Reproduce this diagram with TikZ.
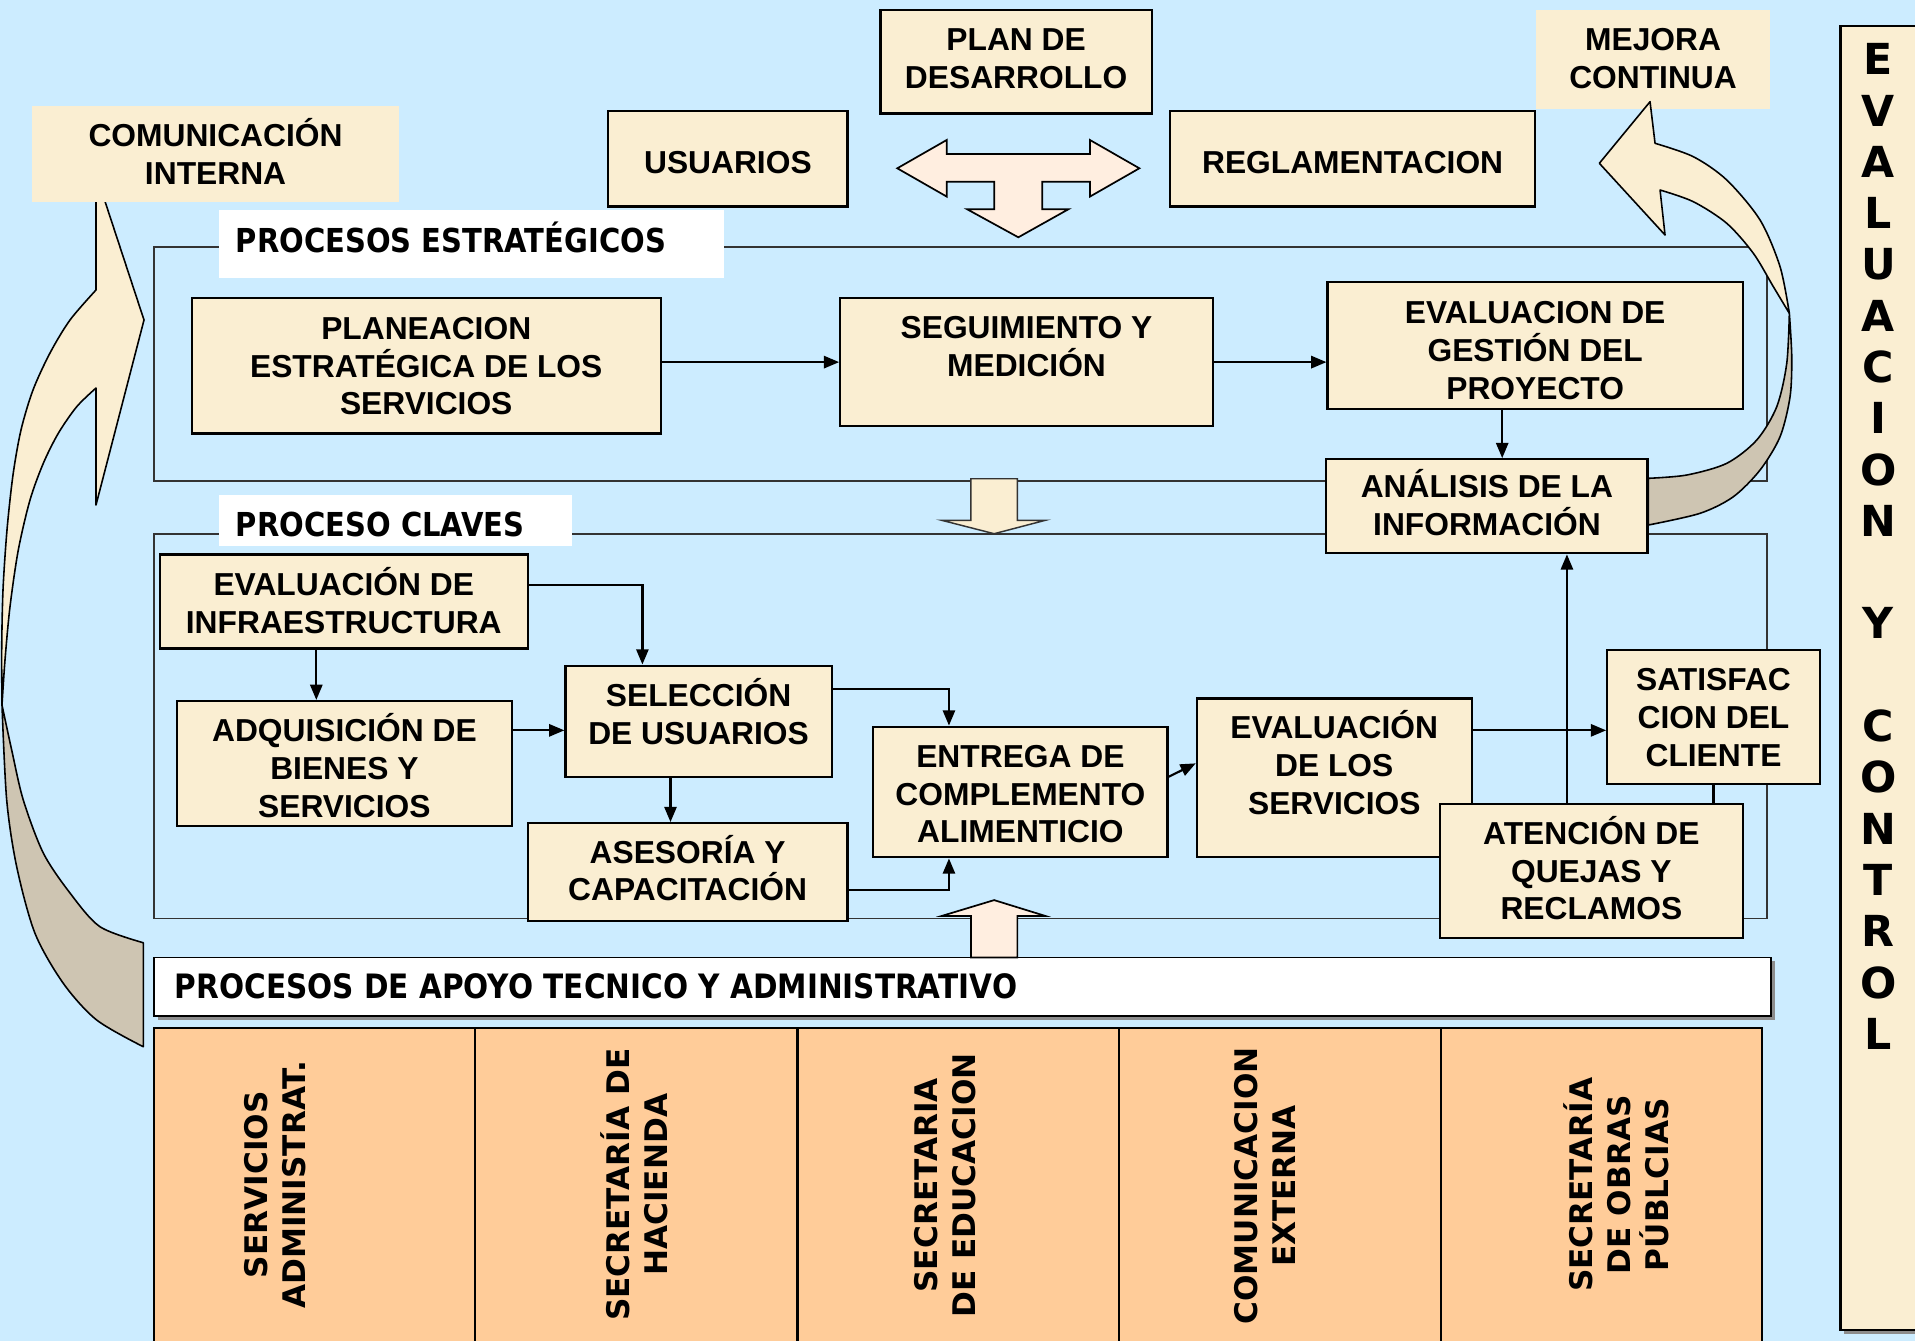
\documentclass[tikz,border=0pt]{standalone}
\usepackage{fontspec}
\setmainfont{Liberation Sans}
\newfontfamily\headfont[FakeStretch=0.88]{DejaVu Sans}
\newfontfamily\vertfont{DejaVu Sans}
\usetikzlibrary{arrows.meta,fit}
\definecolor{bgc}{RGB}{204,236,255}
\definecolor{parch}{RGB}{250,238,210}
\definecolor{cTan}{RGB}{206,197,178}
\definecolor{peachlt}{RGB}{255,238,224}
\definecolor{peachc}{RGB}{255,204,153}
\newcommand\hph{\vphantom{Á}}
\begin{document}
\begin{tikzpicture}[x=1pt,y=-1pt,
  box/.style={draw=black,line width=1.8pt,fill=parch,inner sep=0pt},
  plainbox/.style={fill=parch,inner sep=0pt},
  whitebox/.style={fill=white,inner sep=0pt},
  txt/.style={align=center,font=\fontsize{26}{31}\selectfont\bfseries,inner sep=0pt,yshift=2.7pt},
  head/.style={font=\headfont\fontsize{27}{31}\selectfont\bfseries,inner sep=0pt,anchor=west,yshift=2.7pt},
  vert/.style={font=\vertfont\fontsize{25.5}{31}\selectfont\bfseries,align=center,rotate=90,inner sep=0pt},
  conn/.style={line width=1.8pt,-{Triangle[length=12.5pt,width=10pt]}},
  lin/.style={line width=1.8pt},
  frm/.style={draw=black!80,line width=1.5pt},
  blockarrow/.style={draw=black,line width=1.4pt,line join=miter},
  curved/.style={draw=black,line width=1.3pt,line join=round}
]
\useasboundingbox (0,0) rectangle (1568,1098);
\fill[bgc] (0,0) rectangle (1568,1098);

% frames
\draw[frm] (126,202) rectangle (1447,394);
\draw[frm] (126,437) rectangle (1447,752);

% left curved arrow (full-size pixel coordinates)
\begin{scope}[scale=0.818815]
\draw[curved,fill=parch] (96,174) -- (144,320) -- (96,505) -- (96,388)
  -- plot[smooth] coordinates {(96,388) (76.7,406.7) (58.3,433.3) (43.3,463.3) (30,500) (18.3,550) (10,606.7) (5,660) (2,705)}
  -- plot[smooth] coordinates {(2,705) (1.7,650) (3,590) (7,530) (13,475) (21,430) (33,390) (50,353) (70,320) (96,290)}
  -- cycle;
\draw[curved,fill=cTan] (2,705)
  -- plot[smooth] coordinates {(2,705) (6.7,800) (16.7,866.7) (35,933.3) (63.3,983.3) (96.7,1020) (143.3,1046.7)}
  -- (143.3,942.7)
  -- plot[smooth] coordinates {(143.3,942.7) (100,926.7) (70,893) (43.3,853) (23.3,800) (11.7,750) (2,705)}
  -- cycle;
\end{scope}

% section labels
\node[whitebox,fit={(179,172) (593,228)}] (lblEst) {};
\node[head] (lblEstT) at (193,197) {\hph PROCESOS ESTRATÉGICOS};
\node[whitebox,fit={(179,405) (468,447)}] (lblCla) {};
\node[head] (lblClaT) at (193,430) {\hph PROCESO CLAVES};

% T-shaped block arrow
\draw[blockarrow,fill=peachlt] (734.7,137.8) -- (775.2,114.6) -- (775.2,126.1) -- (892.4,126.1) -- (892.4,114.6)
  -- (932.9,137.8) -- (892.4,161.0) -- (892.4,148.8) -- (853.4,148.8) -- (853.4,171.4) -- (874.7,171.4)
  -- (833.8,194.3) -- (792.0,171.4) -- (814.1,171.4) -- (814.1,148.8) -- (775.2,148.8) -- (775.2,161.0) -- cycle;

% block arrow down between frames
\draw[blockarrow,draw=black!80,line width=1.2pt,fill=parch] (795,392) -- (833,392) -- (833,426) -- (856,426) -- (814,437) -- (771,426) -- (795,426) -- cycle;

% top boxes
\node[box,fit={(721,8) (943,93)}] (plan) {};
\node[txt] (planT) at (832,48) {\hph PLAN DE\\DESARROLLO};
\node[box,fit={(498,91) (694,169)}] (usu) {};
\node[txt] (usuT) at (596,133) {\hph USUARIOS};
\node[box,fit={(958,91) (1257,169)}] (regl) {};
\node[txt] (reglT) at (1107.5,133) {\hph REGLAMENTACION};
\node[plainbox,fit={(1258,8) (1449,89)}] (mejora) {};
\node[txt] (mejoraT) at (1353.5,48) {\hph MEJORA\\CONTINUA};
\node[plainbox,fit={(26,87) (327,165)}] (comint) {};
\node[txt] (comintT) at (176.5,126.5) {\hph COMUNICACIÓN\\INTERNA};

% strategic processes
\node[box,fit={(157,244) (541,355)}] (planea) {};
\node[txt] (planeaT) at (349,300) {\hph PLANEACION\\ESTRATÉGICA DE LOS\\SERVICIOS};
\node[box,fit={(688,244) (993,349)}] (seg) {};
\node[txt] (segT) at (840.5,284) {\hph SEGUIMIENTO Y\\MEDICIÓN};
\node[box,fit={(1087,231) (1427,335)}] (evalg) {};
\node[txt] (evalgT) at (1257,287) {\hph EVALUACION DE\\GESTIÓN DEL\\PROYECTO};

% right curved arrow (full-size pixel coordinates)
\begin{scope}[scale=0.818815]
\draw[curved,fill=parch] (1650,101.7) -- (1599.3,163.3) -- (1665,235) -- (1660,190)
  -- plot[smooth] coordinates {(1660,190) (1693.3,201.7) (1726.7,223.3) (1753.3,253.3) (1773.3,286.7) (1789.3,313.3)}
  -- plot[smooth] coordinates {(1789.3,313.3) (1780,266.7) (1760,220) (1726.7,180) (1693.3,156.7) (1655,143.3)}
  -- cycle;
\draw[curved,fill=cTan] (1789.3,313.3)
  -- plot[smooth] coordinates {(1789.3,313.3) (1791.7,356.7) (1790,396.7) (1780,436.7) (1760,470) (1733.3,496.7) (1700,513.3) (1648.3,525)}
  -- (1648.3,478.3)
  -- plot[smooth] coordinates {(1648.3,478.3) (1686.7,475) (1726.7,463.3) (1756.7,440) (1776.7,406.7) (1786.7,363.3) (1789.3,313.3)}
  -- cycle;
\end{scope}

\node[box,fit={(1086,376) (1349,453)}] (anal) {};
\node[txt] (analT) at (1217.5,414.5) {\hph ANÁLISIS DE LA\\INFORMACIÓN};

% key processes
\node[box,fit={(131,454) (432,531)}] (infra) {};
\node[txt] (infraT) at (281.5,494.5) {\hph EVALUACIÓN DE\\INFRAESTRUCTURA};
\node[box,fit={(145,574) (419,676)}] (adq) {};
\node[txt] (adqT) at (282,629.5) {\hph ADQUISICIÓN DE\\BIENES Y\\SERVICIOS};
\node[box,fit={(463,545) (681,636)}] (sel) {};
\node[txt] (selT) at (572,585) {\hph SELECCIÓN\\DE USUARIOS};
\node[box,fit={(432,674) (694,754)}] (ases) {};
\node[txt] (asesT) at (563,713.5) {\hph ASESORÍA Y\\CAPACITACIÓN};
\node[box,fit={(715,595) (956,702)}] (entr) {};
\node[txt] (entrT) at (835.5,650.5) {\hph ENTREGA DE\\COMPLEMENTO\\ALIMENTICIO};
\node[box,fit={(980,572) (1205,702)}] (evals) {};
\node[txt] (evalsT) at (1092.5,627) {\hph EVALUACIÓN\\DE LOS\\SERVICIOS};
\node[box,fit={(1316,532) (1490,642)}] (satis) {};
\node[txt] (satisT) at (1403,587.5) {\hph SATISFAC\\CION DEL\\CLIENTE};
\node[box,fit={(1179,658) (1427,768)}] (aten) {};
\node[txt] (atenT) at (1303,713.5) {\hph ATENCIÓN DE\\QUEJAS Y\\RECLAMOS};

% connectors
\draw[conn] (planea.east |- seg.west) -- (seg.west);
\draw[conn] (seg.east) -- (seg.east -| evalg.west);
\draw[conn] ([xshift=-27pt]evalg.south) -- ([xshift=-27pt]evalg.south |- anal.north);
\draw[conn] ([xshift=-22.5pt]infra.south) -- ([xshift=-22.5pt]infra.south |- adq.north);
\draw[conn] ([yshift=13.5pt]infra.east) -| ([xshift=-46pt]sel.north);
\draw[conn] ([yshift=27pt]adq.east) -- ([yshift=27pt]adq.east -| sel.west);
\draw[conn] ([xshift=-23pt]sel.south) -- ([xshift=-23pt]sel.south |- ases.north);
\draw[conn] ([yshift=26.5pt]sel.east) -| ([xshift=-58.5pt]entr.north);
\draw[conn] ([yshift=-15pt]ases.east) -| ([xshift=-58.5pt]entr.south);
\draw[conn] ([yshift=12.5pt]entr.east) -- ([yshift=12pt]evals.west);
\draw[conn] ([yshift=39pt]evals.east) -- ([yshift=39pt]evals.east -| satis.west);
\draw[conn] ([xshift=-20pt]aten.north) -- ([xshift=-20pt]aten.north |- anal.south);
\draw[lin] (satis.south) -- (satis.south |- aten.north);

% support processes
\fill[black!45] (129,787) rectangle (1453,835);
\node[whitebox,draw=black,line width=1.5pt,fit={(126,784) (1450,832)}] (apoyo) {};
\node[head,font=\headfont\fontsize{27.5}{31}\selectfont\bfseries] (apoyoT) at (143,808) {\hph PROCESOS DE APOYO TECNICO Y ADMINISTRATIVO};

% block arrow up
\draw[blockarrow,fill=peachlt] (795,784) -- (795,750) -- (771,750) -- (814,737) -- (856,750) -- (833,750) -- (833,784) -- cycle;

% bottom columns
\draw[fill=peachc,line width=1.8pt] (126,842) rectangle (1443,1115);
\foreach \xx in {389,653,916,1180} \draw[line width=1.8pt] (\xx,842) -- (\xx,1115);
\node[vert] (c1) at (223,970) {\hph SERVICIOS\\ADMINISTRAT.};
\node[vert] (c2) at (519,970) {\hph SECRETARÍA DE\\HACIENDA};
\node[vert] (c3) at (771.5,970.5) {\hph SECRETARIA\\DE EDUCACION};
\node[vert] (c4) at (1033.5,971) {\hph COMUNICACION\\EXTERNA};
\node[vert] (c5) at (1323.5,970) {\hph SECRETARÍA\\DE OBRAS\\PÚBLCIAS};

% evaluation and control column
\fill[black!45] (1510,24) rectangle (1595,1092);
\node[box,fit={(1507,21) (1592,1089)}] (evc) {};
\node[font=\vertfont\fontsize{35}{42}\selectfont\bfseries,align=center,inner sep=0pt] (evcT) at (1538,447.4)
  {E\\V\\A\\L\\U\\A\\C\\I\\O\\N\\\mbox{}\\Y\\\mbox{}\\C\\O\\N\\T\\R\\O\\L};
\end{tikzpicture}
\end{document}
